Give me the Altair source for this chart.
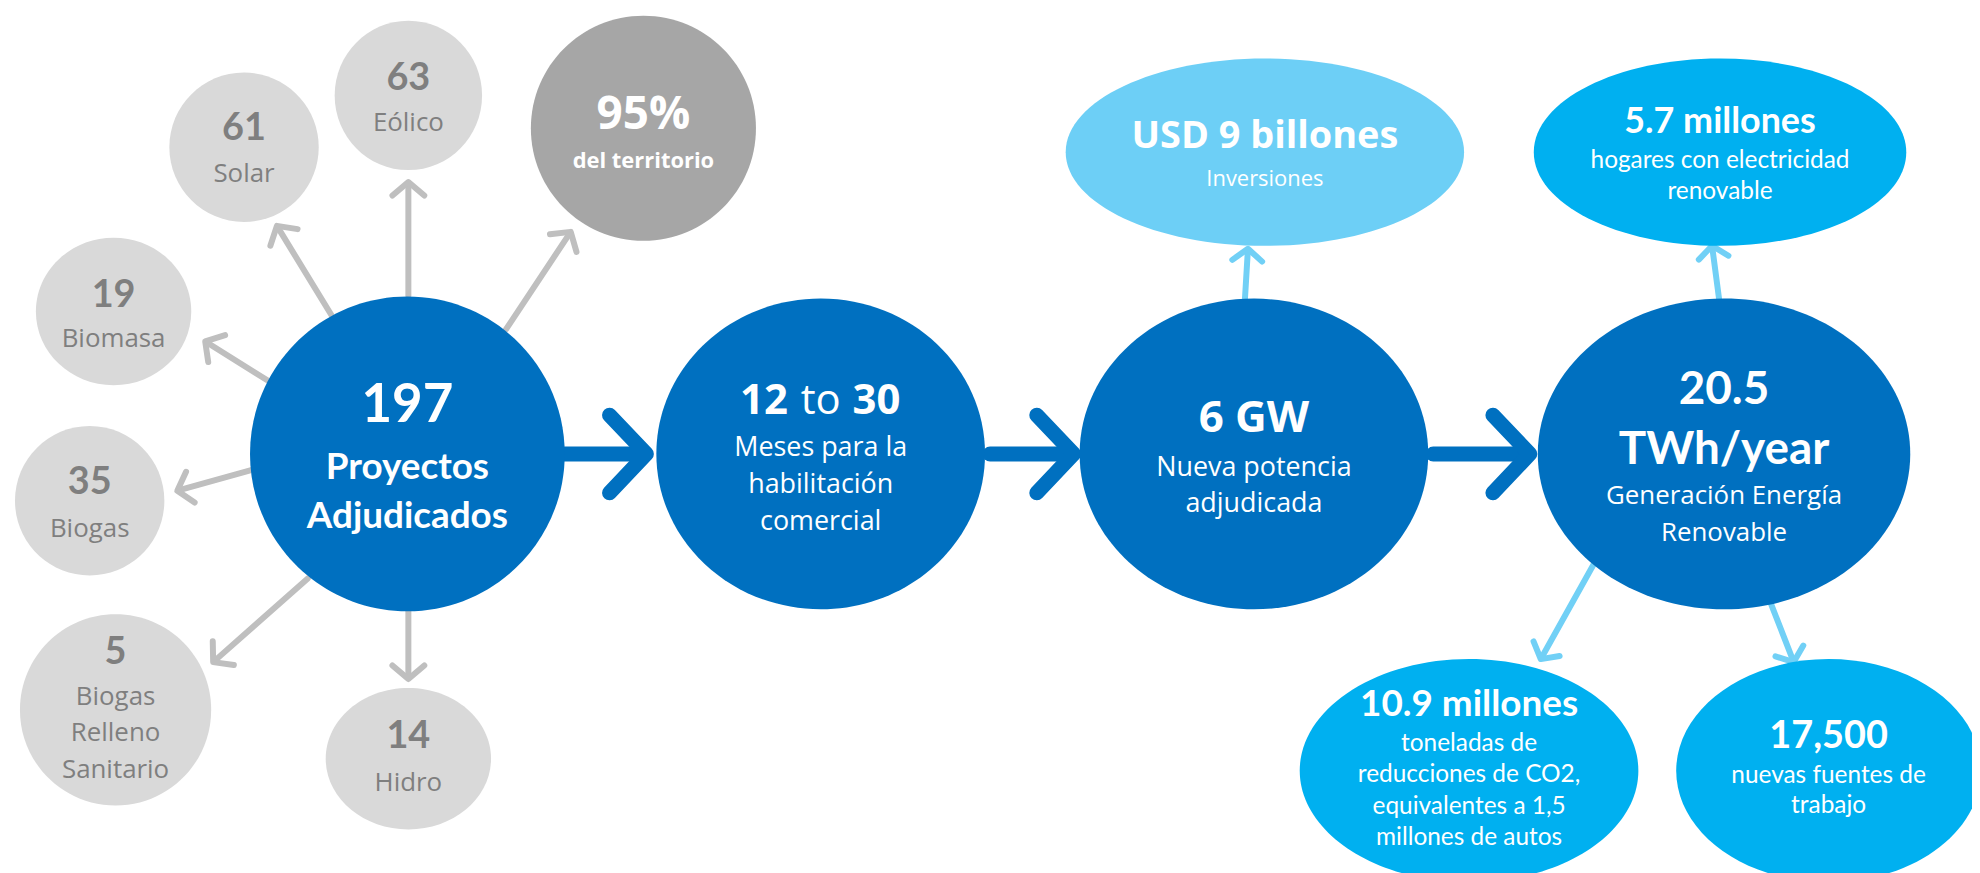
import math
import altair as alt
import pandas as pd

# ------------------------------------------------------------------ values
sat_numbers = ["61", "63", "19", "35", "5", "14"]
sat_labels = [["Solar"], ["Eólico"], ["Biomasa"], ["Biogas"],
              ["Biogas", "Relleno", "Sanitario"], ["Hidro"]]
coverage_value = ["95%"]
coverage_label = ["del territorio"]
projects_value = ["197"]
projects_label = ["Proyectos", "Adjudicados"]
months_range = ["12", "to", "30"]
months_label = ["Meses para la", "habilitación", "comercial"]
capacity_value = ["6 GW"]
capacity_label = ["Nueva potencia", "adjudicada"]
generation_value = ["20.5", "TWh/year"]
generation_label = ["Generación Energía", "Renovable"]
investment_value = ["USD 9 billones"]
investment_label = ["Inversiones"]
homes_value = ["5.7 millones"]
homes_label = ["hogares con electricidad", "renovable"]
co2_value = ["10.9 millones"]
co2_label = ["toneladas de", "reducciones de CO2,", "equivalentes a 1,5",
             "millones de autos"]
jobs_value = ["17,500"]
jobs_label = ["nuevas fuentes de", "trabajo"]

# ------------------------------------------------------------------ layout / styles (page pixels)
GRAY_FILL, GRAY_TEXT, DARK_GRAY = "#d9d9d9", "#7f7f7f", "#a6a6a6"
BLUE, SKY, CYAN, WHITE = "#0070c0", "#6dcff6", "#00b0f0", "#ffffff"
LATO, OPEN = "Lato", "Open Sans"

# head style: (font, weight, size, colour, [y per line])
# cap style:  (font, weight, size, colour, first y, line step)
nodes = [
    dict(head=[sat_numbers[0]], cap=sat_labels[0], ell=(245, 146, 75, 75, GRAY_FILL),
         hs=(LATO, "bold", 38, GRAY_TEXT, [128]), cs=(OPEN, "normal", 26, GRAY_TEXT, 173, 36)),
    dict(head=[sat_numbers[1]], cap=sat_labels[1], ell=(410, 94, 74, 75, GRAY_FILL),
         hs=(LATO, "bold", 38, GRAY_TEXT, [78]), cs=(OPEN, "normal", 26, GRAY_TEXT, 122, 36)),
    dict(head=[sat_numbers[2]], cap=sat_labels[2], ell=(114, 311, 78, 74, GRAY_FILL),
         hs=(LATO, "bold", 38, GRAY_TEXT, [295]), cs=(OPEN, "normal", 26, GRAY_TEXT, 339, 36)),
    dict(head=[sat_numbers[3]], cap=sat_labels[3], ell=(90, 501, 75, 75, GRAY_FILL),
         hs=(LATO, "bold", 38, GRAY_TEXT, [483]), cs=(OPEN, "normal", 26, GRAY_TEXT, 529, 36)),
    dict(head=[sat_numbers[4]], cap=sat_labels[4], ell=(116, 711, 96, 96, GRAY_FILL),
         hs=(LATO, "bold", 38, GRAY_TEXT, [654]), cs=(OPEN, "normal", 26, GRAY_TEXT, 698, 36.5)),
    dict(head=[sat_numbers[5]], cap=sat_labels[5], ell=(410, 760, 83, 71, GRAY_FILL),
         hs=(LATO, "bold", 38, GRAY_TEXT, [738]), cs=(OPEN, "normal", 26, GRAY_TEXT, 784, 36)),
    dict(head=coverage_value, cap=coverage_label, ell=(646, 127, 113, 113, DARK_GRAY),
         hs=(OPEN, "bold", 46, WHITE, [114]), cs=(OPEN, "bold", 22, WHITE, 160, 30)),
    dict(head=projects_value, cap=projects_label, ell=(409, 454, 158, 158, BLUE),
         hs=(LATO, "bold", 53, WHITE, [406]), cs=(LATO, "bold", 37, WHITE, 468, 49)),
    dict(head=[], cap=months_label, ell=(824, 454, 165, 156, BLUE),
         hs=(OPEN, "bold", 42, WHITE, []), cs=(OPEN, "normal", 27, WHITE, 448, 37)),
    dict(head=capacity_value, cap=capacity_label, ell=(1259, 454, 175, 156, BLUE),
         hs=(OPEN, "bold", 44, WHITE, [419]), cs=(OPEN, "normal", 27, WHITE, 468, 36)),
    dict(head=generation_value, cap=generation_label, ell=(1731, 454, 187, 156, BLUE),
         hs=(LATO, "bold", 46, WHITE, [390, 450]), cs=(OPEN, "normal", 26, WHITE, 496, 37)),
    dict(head=investment_value, cap=investment_label, ell=(1270, 151, 200, 94, SKY),
         hs=(OPEN, "bold", 38, WHITE, [136]), cs=(OPEN, "normal", 22, WHITE, 178, 30)),
    dict(head=homes_value, cap=homes_label, ell=(1727, 151, 187, 94, CYAN),
         hs=(LATO, "bold", 36, WHITE, [121]), cs=(LATO, "normal", 24.5, WHITE, 160, 31)),
    dict(head=co2_value, cap=co2_label, ell=(1475, 772, 170, 112, CYAN),
         hs=(LATO, "bold", 37, WHITE, [706]), cs=(LATO, "normal", 24.5, WHITE, 745, 31.7)),
    dict(head=jobs_value, cap=jobs_label, ell=(1836, 772, 153, 112, CYAN),
         hs=(LATO, "bold", 38, WHITE, [738]), cs=(LATO, "normal", 24.5, WHITE, 777, 31)),
]
# "12 to 30" pieces: (x, align, weight)
months_pieces = [(791, "right", "bold"), (824, "center", "normal"), (856, "left", "bold")]
months_y, months_size = 401, 42

# arrows: (x0, y0, tip x, tip y, kind)
arrows = [
    (333, 315, 278, 225, "gray"), (410, 295, 410, 181, "gray"),
    (508, 329, 573, 231, "gray"), (270, 381, 206, 341, "gray"),
    (253, 470, 178, 491, "gray"), (309, 579, 214, 663, "gray"),
    (410, 612, 410, 680, "gray"),
    (566, 454, 649, 454, "blue"), (994, 454, 1078, 454, "blue"),
    (1439, 454, 1536, 454, "blue"),
    (1250, 298, 1253, 248, "sky"), (1726, 298, 1719, 245, "sky"),
    (1600, 565, 1547, 660, "sky"), (1778, 604, 1801, 663, "sky"),
]
arrow_style = {
    "gray": dict(color="#bfbfbf", width=6, back=0.85, scale=16),
    "blue": dict(color=BLUE, width=15, back=0.95, scale=39),
    "sky": dict(color="#71d0f6", width=6, back=0.8, scale=15),
}


def ellipse_path(k):
    c = 0.5523
    return (f"M 1 0 C 1 {c*k:.4f} {c:.4f} {k:.4f} 0 {k:.4f} "
            f"C {-c:.4f} {k:.4f} -1 {c*k:.4f} -1 0 "
            f"C -1 {-c*k:.4f} {-c:.4f} {-k:.4f} 0 {-k:.4f} "
            f"C {c:.4f} {-k:.4f} 1 {-c*k:.4f} 1 0 Z")


# ------------------------------------------------------------------ tables
ell_rows, text_rows = [], []
for n in nodes:
    cx, cy, rx, ry, fill = n["ell"]
    ell_rows.append(dict(x=cx, y=cy, shape=ellipse_path(ry / rx),
                         size=(2 * rx) ** 2, color=fill))
    font, weight, size, col, ys = n["hs"]
    for line, yy in zip(n["head"], ys):
        text_rows.append(dict(x=cx, y=yy, text=line, size=size, color=col,
                              font=font, weight=weight, align="center"))
    font, weight, size, col, y0, dy = n["cs"]
    for i, line in enumerate(n["cap"]):
        text_rows.append(dict(x=cx, y=y0 + i * dy, text=line, size=size, color=col,
                              font=font, weight=weight, align="center"))
for piece, (px, al, wt) in zip(months_range, months_pieces):
    text_rows.append(dict(x=px, y=months_y, text=piece, size=months_size, color=WHITE,
                          font=OPEN, weight=wt, align=al))

shaft_rows, head_rows = [], []
for x0, y0, x1, y1, kind in arrows:
    st = arrow_style[kind]
    dx, dy = x1 - x0, y1 - y0
    L = math.hypot(dx, dy)
    ux, uy = dx / L, dy / L
    shaft_rows.append(dict(x=x0, y=y0, x1=x1 - ux * st["width"] / 2,
                           y1=y1 - uy * st["width"] / 2,
                           color=st["color"], sw=st["width"]))
    b = st["back"]
    head_rows.append(dict(x=x1, y=y1, shape=f"M {-b} -1 L 0 0 L {-b} 1",
                          size=(2 * st["scale"]) ** 2,
                          angle=math.degrees(math.atan2(dy, dx)) % 360,
                          color=st["color"], sw=st["width"]))

ell_df = pd.DataFrame(ell_rows)
text_df = pd.DataFrame(text_rows)
shaft_df = pd.DataFrame(shaft_rows)
head_df = pd.DataFrame(head_rows)

W, H = 1972, 865
X = alt.X("x:Q", scale=alt.Scale(domain=[8, 8 + W], nice=False, zero=False), axis=None)
Y = alt.Y("y:Q", scale=alt.Scale(domain=[8, 8 + H], nice=False, zero=False, reverse=True),
          axis=None)

shafts = alt.Chart(shaft_df).mark_rule(strokeCap="round").encode(
    x=X, y=Y, x2="x1:Q", y2="y1:Q",
    color=alt.Color("color:N", scale=None),
    strokeWidth=alt.StrokeWidth("sw:Q", scale=None),
)
heads = alt.Chart(head_df).mark_point(filled=False, opacity=1, strokeCap="round",
                                      strokeJoin="round").encode(
    x=X, y=Y,
    shape=alt.Shape("shape:N", scale=None),
    size=alt.Size("size:Q", scale=None),
    angle=alt.Angle("angle:Q", scale=None),
    color=alt.Color("color:N", scale=None),
    strokeWidth=alt.StrokeWidth("sw:Q", scale=None),
)
ellipses = alt.Chart(ell_df).mark_point(filled=True, opacity=1, strokeWidth=0).encode(
    x=X, y=Y,
    shape=alt.Shape("shape:N", scale=None),
    size=alt.Size("size:Q", scale=None),
    color=alt.Color("color:N", scale=None),
)

text_layers = []
for (font, weight, align), grp in text_df.groupby(["font", "weight", "align"]):
    text_layers.append(
        alt.Chart(grp).mark_text(font=font, fontWeight=weight, align=align,
                                 baseline="middle").encode(
            x=X, y=Y, text="text:N",
            size=alt.Size("size:Q", scale=None),
            color=alt.Color("color:N", scale=None),
        )
    )

chart = alt.layer(shafts, heads, ellipses, *text_layers).properties(
    width=W, height=H, padding=0, autosize="none", background="white"
).configure_view(strokeWidth=0)

chart.save("out.html", embed_options={"renderer": "svg", "actions": False})
